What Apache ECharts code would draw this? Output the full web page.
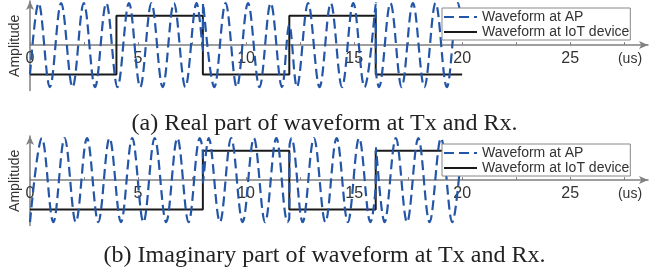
<!DOCTYPE html>
<html>
<head>
<meta charset="utf-8">
<script src="https://cdn.jsdelivr.net/npm/echarts@6/dist/echarts.min.js"></script>
<style>
  html, body { margin: 0; padding: 0; background: #fff; }
  #chart { width: 649px; height: 275px; }
</style>
</head>
<body>
<div id="chart"></div>
<script>
// times in us (extrema and the jumps at symbol edges)
const apRealTime = [0, 0.40, 0.92, 1.44, 1.97, 2.49, 3.01, 3.53, 4.05, 4.58, 5.10, 5.62, 6.14, 6.66, 7.19, 7.71,
  8.00, 8.01, 8.53, 9.05, 9.57, 10.09, 10.62, 11.14, 11.66, 12.00, 12.35, 12.87, 13.40, 13.92, 14.44, 14.96, 15.48,
  16.00, 16.01, 16.15, 16.68, 17.20, 17.72, 18.25, 18.77, 19.29, 19.81, 20.00];
const apRealAmp = [-0.7, 1, -1, 1, -1, 1, -1, 1, -1, 1, -1, 1, -1, 1, -1, 1,
  -0.13, 1, -1, 1, -1, 1, -1, 1, -1, 0.48, -1, 1, -1, 1, -1, 1, -1,
  1, -0.59, -1, 1, -1, 1, -1, 1, -1, 1, 0.42];

const apImagTime = [0, 0.55, 1.08, 1.60, 2.12, 2.64, 3.16, 3.68, 4.21, 4.73, 5.25, 5.77, 6.30, 6.82, 7.34, 7.86,
  8.00, 8.01, 8.27, 8.79, 9.31, 9.84, 10.36, 10.88, 11.40, 11.92,
  12.00, 12.01, 12.10, 12.62, 13.14, 13.67, 14.19, 14.71, 15.23, 15.75,
  16.00, 16.01, 16.41, 16.93, 17.45, 17.97, 18.49, 19.02, 19.54, 20.00];
const apImagAmp = [-1, 1, -1, 1, -1, 1, -1, 1, -1, 1, -1, 1, -1, 1, -1, 1,
  0.67, -0.06, 1, -1, 1, -1, 1, -1, 1, -1,
  -0.9, 0.81, 1, -1, 1, -1, 1, -1, 1, -1,
  -0.06, 0.77, -1, 1, -1, 1, -1, 1, -1, 0.93];

// IoT device levels, one per 4 us symbol (last entry closes the trace at 20 us)
const slotStart = [0, 4, 8, 12, 16, 20];
const iotReal = [-0.7, 0.7, -0.7, 0.7, -0.7, -0.7];
const iotImag = [-0.7, -0.7, 0.7, -0.7, 0.7, 0.7];

const tickLabels = ['0', '5', '10', '15', '20', '25'];
const captions = ['(a) Real part of waveform at Tx and Rx.', '(b) Imaginary part of waveform at Tx and Rx.'];
const names = ['Waveform at AP', 'Waveform at IoT device'];

const zip = (a, b) => a.map((v, i) => [v, b[i]]);

const blue = '#2456a8';
const axisGray = '#808080';
const yMin = -1.08, yMax = 1.05, plotH = 89.5;
// put the time axis on amplitude 0 instead of the grid bottom
const zeroOffset = -plotH * (0 - yMin) / (yMax - yMin);

function xAxisOf(idx) {
  return {
    gridIndex: idx, type: 'value', min: 0, max: 28.6, interval: 2.5,
    position: 'bottom', offset: zeroOffset,
    name: '(us)', nameLocation: 'end', nameGap: -18,
    nameTextStyle: { align: 'center', verticalAlign: 'top', padding: [7, 0, 0, 0], fontSize: 14, color: '#333', fontFamily: 'Liberation Sans' },
    axisLine: { onZero: false, lineStyle: { color: axisGray, width: 1.5 }, symbol: ['none', 'arrow'], symbolSize: [6, 9] },
    axisTick: { inside: true, length: 3, lineStyle: { color: axisGray } },
    axisLabel: {
      margin: 5, fontSize: 16, color: '#333', fontFamily: 'Liberation Sans', showMaxLabel: false,
      formatter: v => (tickLabels.includes(String(v)) ? String(v) : '')
    },
    splitLine: { show: false }
  };
}

function yAxisOf(idx) {
  return {
    gridIndex: idx, type: 'value', min: yMin, max: yMax,
    name: 'Amplitude', nameLocation: 'middle', nameGap: 8, nameRotate: 90,
    nameTextStyle: { fontSize: 14, color: '#333', fontFamily: 'Liberation Sans' },
    axisLine: { show: true, lineStyle: { color: axisGray, width: 1.5 }, symbol: ['none', 'arrow'], symbolSize: [6, 9] },
    axisTick: { show: false },
    axisLabel: { show: false },
    splitLine: { show: false }
  };
}

function iotSeries(idx, levels) {
  return {
    name: names[1], type: 'line', xAxisIndex: idx, yAxisIndex: idx,
    data: zip(slotStart, levels), step: 'end', symbol: 'none', z: 2,
    lineStyle: { color: '#1a1a1a', width: 2 }, itemStyle: { color: '#1a1a1a' }
  };
}

function apSeries(idx, t, a) {
  return {
    name: names[0], type: 'line', xAxisIndex: idx, yAxisIndex: idx,
    data: zip(t, a), smooth: 0.36, symbol: 'none', z: 3,
    lineStyle: { color: blue, width: 2.2, type: [10, 5] }, itemStyle: { color: blue }
  };
}

function legendOf(top) {
  return {
    data: names, orient: 'vertical', left: 442, top: top,
    itemWidth: 33, itemHeight: 14, itemGap: 1, padding: [2, 1, 1, 1],
    backgroundColor: '#fff', borderColor: '#888', borderWidth: 1,
    itemStyle: { opacity: 0 },   // line only, no marker
    textStyle: { fontSize: 14, color: '#333', fontFamily: 'Liberation Sans' }
  };
}

const chart = echarts.init(document.getElementById('chart'), null, { renderer: 'canvas' });
chart.setOption({
  animation: false,
  backgroundColor: '#fff',
  title: [
    { text: captions[0], left: 'center', top: 112, padding: 0,
      textStyle: { fontFamily: 'Liberation Serif', fontSize: 24, fontWeight: 'normal', color: '#222' } },
    { text: captions[1], left: 'center', top: 244, padding: 0,
      textStyle: { fontFamily: 'Liberation Serif', fontSize: 24, fontWeight: 'normal', color: '#222' } }
  ],
  legend: [legendOf(8), legendOf(144)],
  grid: [
    { left: 27, right: 1, top: 1, height: plotH },
    { left: 27, right: 1, top: 136, height: plotH }
  ],
  xAxis: [xAxisOf(0), xAxisOf(1)],
  yAxis: [yAxisOf(0), yAxisOf(1)],
  series: [
    iotSeries(0, iotReal),
    apSeries(0, apRealTime, apRealAmp),
    iotSeries(1, iotImag),
    apSeries(1, apImagTime, apImagAmp)
  ]
});
</script>
</body>
</html>
